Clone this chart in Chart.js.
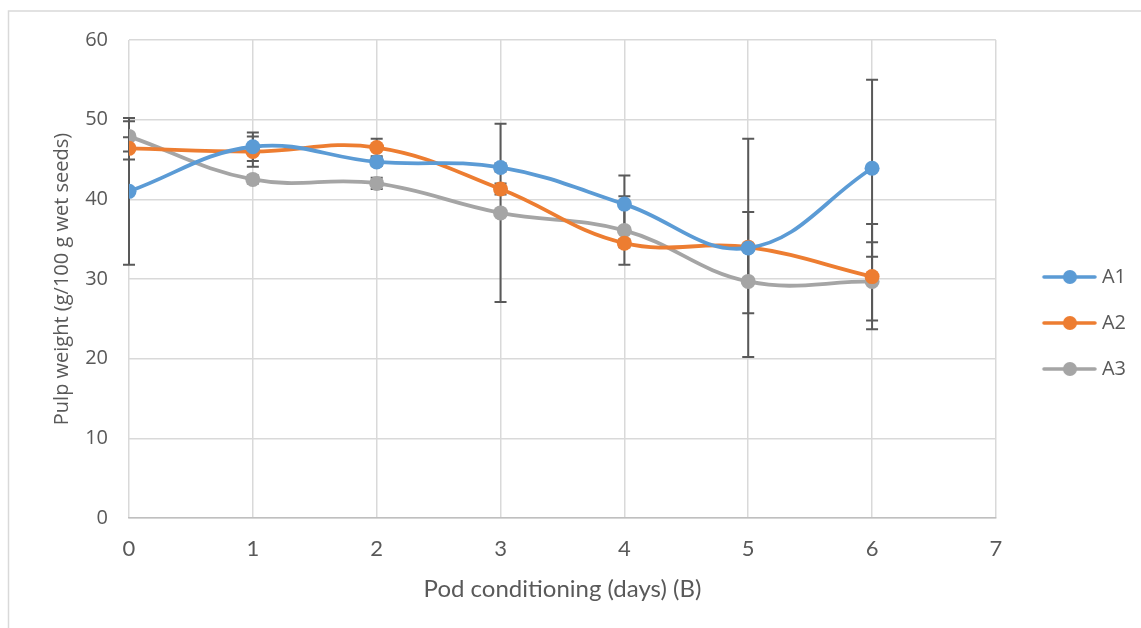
<!DOCTYPE html>
<html>
<head>
<meta charset="utf-8">
<script src="https://cdn.jsdelivr.net/npm/chart.js@4/dist/chart.umd.min.js"></script>
<style>
  html, body { margin: 0; padding: 0; background: #fff; }
  #wrap { width: 1141px; height: 628px; }
</style>
</head>
<body>
<div id="wrap"><canvas id="grafico"></canvas></div>
<script>
// dados
const days = [0, 1, 2, 3, 4, 5, 6]
const a1 = [41.0, 46.6, 44.7, 44.0, 39.4, 33.9, 43.9]
const a2 = [46.4, 46.0, 46.5, 41.3, 34.5, 34.0, 30.3]
const a3 = [47.9, 42.5, 42.0, 38.3, 36.1, 29.7, 29.7]
const a1Err = [9.2, 1.8, 0.5, 0.5, 3.6, 13.7, 11.1]
const a2Err = [1.4, 1.9, 1.1, 0.7, 0.5, 4.4, 6.6]
const a3Err = [1.9, 0.5, 0.7, 11.2, 4.3, 4.0, 4.9]
const yTicks = [0, 10, 20, 30, 40, 50, 60]
const xTicks = [0, 1, 2, 3, 4, 5, 6, 7]

const cores = { A1: '#5B9BD5', A2: '#ED7D31', A3: '#A5A5A5' }

// simbolo da legenda: linha com bolinha
function legendIcon(color) {
  const c = document.createElement('canvas')
  c.width = 80
  c.height = 18
  const g = c.getContext('2d')
  g.strokeStyle = color
  g.lineWidth = 3.5
  g.lineCap = 'round'
  g.beginPath()
  g.moveTo(27, 9)
  g.lineTo(78, 9)
  g.stroke()
  g.fillStyle = color
  g.beginPath()
  g.arc(53, 9, 7, 0, Math.PI * 2)
  g.fill()
  return c
}

function serie(label, vals, errs) {
  return {
    label: label,
    data: days.map((d, i) => ({ x: d, y: vals[i] })),
    errors: errs,
    borderColor: cores[label],
    backgroundColor: cores[label],
    borderWidth: 3.8,
    pointRadius: 7.5,
    pointHoverRadius: 7.5,
    pointBorderWidth: 0,
    pointStyle: legendIcon(cores[label]),
    tension: 0.4,
    fill: false
  }
}

// barras de erro desenhadas com as escalas do chart
const errorBars = {
  id: 'errorBars',
  beforeDatasetsDraw(chart) {
    const ctx = chart.ctx
    const xs = chart.scales.x
    const ys = chart.scales.y
    ctx.save()
    ctx.strokeStyle = '#595959'
    ctx.lineWidth = 2
    chart.data.datasets.forEach((ds) => {
      ds.data.forEach((p, i) => {
        const e = ds.errors[i]
        const px = xs.getPixelForValue(p.x)
        const top = ys.getPixelForValue(p.y + e)
        const bot = ys.getPixelForValue(p.y - e)
        ctx.beginPath()
        ctx.moveTo(px, top)
        ctx.lineTo(px, bot)
        ctx.moveTo(px - 6, top)
        ctx.lineTo(px + 6, top)
        ctx.moveTo(px - 6, bot)
        ctx.lineTo(px + 6, bot)
        ctx.stroke()
      })
    })
    ctx.restore()
  }
}

// borda externa e fundo branco
const moldura = {
  id: 'moldura',
  beforeDraw(chart) {
    const ctx = chart.ctx
    ctx.save()
    ctx.fillStyle = '#fff'
    ctx.fillRect(0, 0, chart.width, chart.height)
    ctx.strokeStyle = '#D9D9D9'
    ctx.lineWidth = 1.5
    ctx.strokeRect(8.5, 11, chart.width + 10, chart.height + 10)
    ctx.restore()
  }
}

// os pontos não usam a imagem da legenda
const pontosRedondos = {
  id: 'pontosRedondos',
  beforeDatasetsDraw(chart) {
    chart.data.datasets.forEach((ds, i) => {
      chart.getDatasetMeta(i).data.forEach((el) => { el.options.pointStyle = 'circle' })
    })
  }
}

const ctx = document.getElementById('grafico').getContext('2d')
const meuGrafico = new Chart(ctx, {
  type: 'line',
  data: {
    datasets: [serie('A1', a1, a1Err), serie('A2', a2, a2Err), serie('A3', a3, a3Err)]
  },
  options: {
    responsive: true,
    maintainAspectRatio: false,
    animation: false,
    layout: { padding: { left: 0, top: 18, right: 5, bottom: 0 } },
    plugins: {
      // titulo vazio só para reservar o espaço de cima
      title: {
        display: true,
        text: ' ',
        font: { size: 10 },
        padding: { top: 5, bottom: 5 }
      },
      legend: {
        display: true,
        position: 'right',
        labels: {
          usePointStyle: true,
          pointStyleWidth: 70,
          boxHeight: 18,
          padding: 26,
          color: '#595959',
          font: { family: 'Open Sans', size: 20 }
        }
      },
      tooltip: { enabled: false }
    },
    scales: {
      x: {
        type: 'linear',
        min: 0,
        max: 7,
        afterBuildTicks(scale) { scale.ticks = xTicks.map((v) => ({ value: v })) },
        afterFit(scale) { scale.height = 110 },
        grid: { color: '#D9D9D9', lineWidth: 1.5, drawTicks: false },
        border: { color: '#BFBFBF', width: 1.5 },
        ticks: { color: '#595959', padding: 18, font: { family: 'Lato', size: 22 } },
        title: {
          display: true,
          text: 'Pod conditioning (days) (B)',
          color: '#595959',
          padding: { top: 0, bottom: 24 },
          font: { family: 'Lato', size: 24 }
        }
      },
      y: {
        min: 0,
        max: 60,
        afterBuildTicks(scale) { scale.ticks = yTicks.map((v) => ({ value: v })) },
        afterFit(scale) { scale.width = 129 },
        grid: { color: '#D9D9D9', lineWidth: 1.5, drawTicks: false },
        border: { display: false },
        ticks: { color: '#595959', padding: 21, font: { family: 'Open Sans', size: 20 } },
        title: {
          display: true,
          text: 'Pulp weight (g/100 g wet seeds)',
          color: '#595959',
          padding: { top: 50, bottom: 0 },
          font: { family: 'Open Sans', size: 20 }
        }
      }
    }
  },
  plugins: [moldura, pontosRedondos, errorBars]
})
</script>
</body>
</html>
